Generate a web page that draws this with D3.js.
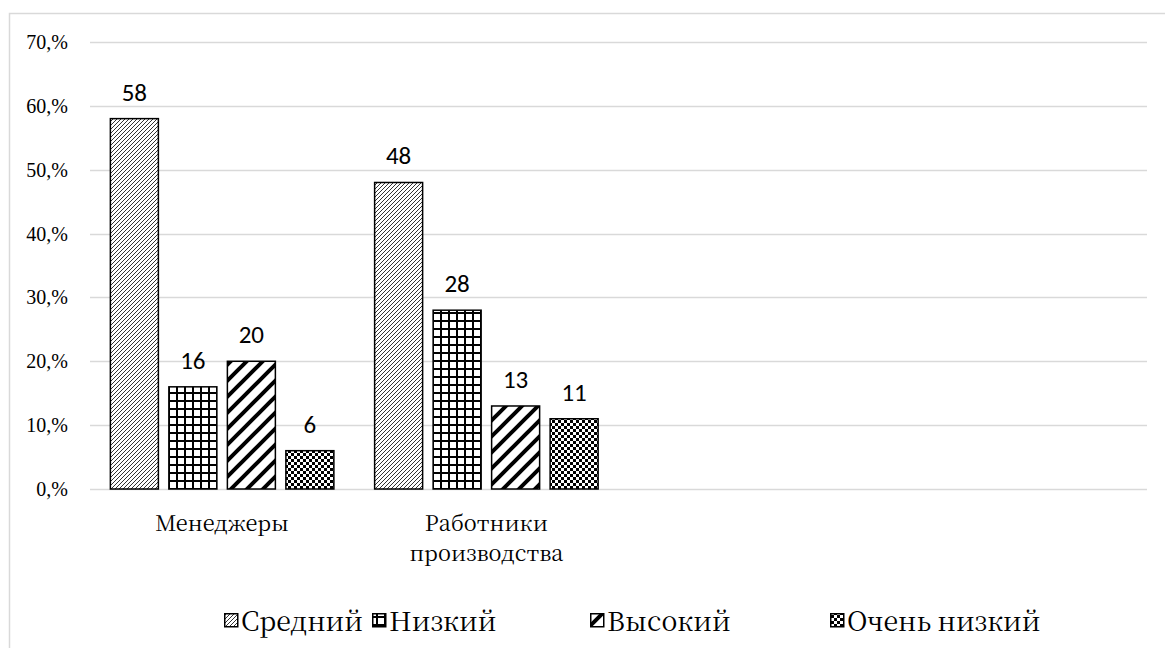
<!DOCTYPE html>
<html><head><meta charset="utf-8">
<script src="https://cdn.jsdelivr.net/npm/d3@7"></script>
<style>body{margin:0;background:#fff}svg{display:block}
.tick{font-family:'Liberation Serif','Times New Roman',serif}
.serif{font-family:'Noto Serif CJK SC','Liberation Serif',serif}
.sans{font-family:'Carlito','Lato','Liberation Sans',sans-serif}
</style>
</head><body>
<svg id="c" width="1165" height="648"></svg>
<script>
const categories = ["Менеджеры", "Работники производства", "", " "];
const seriesNames = ["Средний", "Низкий", "Высокий", "Очень низкий"];
const srednij = [58, 48, null, null];
const nizkij = [16, 28, null, null];
const vysokij = [20, 13, null, null];
const ochenNizkij = [6, 11, null, null];
const yTicks = [0, 10, 20, 30, 40, 50, 60, 70];
const tickLabels = ["0,%", "10,%", "20,%", "30,%", "40,%", "50,%", "60,%", "70,%"];

const seriesValues = [srednij, nizkij, vysokij, ochenNizkij];
const patterns = ["pSred", "pNiz", "pVys", "pOch"];

const svg = d3.select("#c");
const W = 1165, H = 648;
const m = {left: 90, right: 18, top: 42, bottom: 159};

svg.append("rect").attr("x", 9.5).attr("y", 13.5).attr("width", 1200).attr("height", 700)
  .attr("fill", "none").attr("stroke", "#d9d9d9").attr("stroke-width", 1.5);

const defs = svg.append("defs");
const p1 = defs.append("pattern").attr("id", "pSred").attr("patternUnits", "userSpaceOnUse")
  .attr("width", 4).attr("height", 4);
p1.append("rect").attr("width", 4).attr("height", 4).attr("fill", "#fff");
p1.append("path").attr("d", "M-1,1 L1,-1 M0,4 L4,0 M3,5 L5,3").attr("stroke", "#333").attr("stroke-width", 1);
const p2 = defs.append("pattern").attr("id", "pNiz").attr("patternUnits", "userSpaceOnUse")
  .attr("width", 8).attr("height", 8);
p2.append("rect").attr("width", 8).attr("height", 8).attr("fill", "#fff");
p2.append("path").attr("d", "M1,0 V8 M0,1 H8").attr("stroke", "#000").attr("stroke-width", 2);
const p3 = defs.append("pattern").attr("id", "pVys").attr("patternUnits", "userSpaceOnUse")
  .attr("width", 16).attr("height", 16);
p3.append("rect").attr("width", 16).attr("height", 16).attr("fill", "#fff");
p3.append("path").attr("d", "M-4,4 L4,-4 M0,16 L16,0 M12,20 L20,12").attr("stroke", "#000").attr("stroke-width", 4);
const p4 = defs.append("pattern").attr("id", "pOch").attr("patternUnits", "userSpaceOnUse")
  .attr("width", 6).attr("height", 6);
p4.append("rect").attr("width", 6).attr("height", 6).attr("fill", "#fff");
p4.append("rect").attr("width", 3).attr("height", 3).attr("fill", "#000");
p4.append("rect").attr("x", 3).attr("y", 3).attr("width", 3).attr("height", 3).attr("fill", "#000");

const x0 = d3.scaleBand().domain(categories).range([m.left, W - m.right]).padding(0);
const y = d3.scaleLinear().domain([0, 70]).range([H - m.bottom, m.top]);

svg.append("g").selectAll("line").data(yTicks).join("line")
  .attr("x1", m.left).attr("x2", W - m.right)
  .attr("y1", d => Math.round(y(d)) + 0.5).attr("y2", d => Math.round(y(d)) + 0.5)
  .attr("stroke", "#d9d9d9").attr("stroke-width", 1.5);

svg.append("g").selectAll("text").data(yTicks).join("text")
  .attr("class", "tick")
  .attr("x", 68).attr("y", d => y(d) + 7)
  .attr("text-anchor", "end").attr("font-size", 20)
  .attr("fill", "#000")
  .text((d, i) => tickLabels[i]);

const barW = 48, step = 58.5;
const groupW = step * 3 + barW;
seriesValues.forEach((vals, si) => {
  const g = svg.append("g");
  categories.forEach((c, ci) => {
    const v = vals[ci];
    if (v == null) return;
    const cx = x0(c) + x0.bandwidth() / 2;
    const bx = cx - groupW / 2 + si * step;
    g.append("rect").attr("x", bx).attr("y", y(v)).attr("width", barW).attr("height", y(0) - y(v))
      .attr("fill", `url(#${patterns[si]})`).attr("stroke", "#000").attr("stroke-width", 1.5);
    g.append("text").attr("class", "sans").attr("x", bx + barW / 2).attr("y", y(v) - 18)
      .attr("text-anchor", "middle").attr("font-size", 25)
      .attr("fill", "#000").text(v);
  });
});

function fitSize(cls, str, target) {
  const t = svg.append("text").attr("class", cls).attr("font-size", 100).text(str);
  const w = t.node().getComputedTextLength();
  t.remove();
  return w > 0 ? 100 * target / w : 22;
}

const catSize = fitSize("serif", "Менеджеры", 134);
const catG = svg.append("g");
categories.forEach(c => {
  if (!c.trim()) return;
  const cx = x0(c) + x0.bandwidth() / 2;
  const words = c === "Работники производства" ? ["Работники", "производства"] : [c];
  words.forEach((w, i) => {
    catG.append("text").attr("class", "serif").attr("x", cx).attr("y", 531 + i * 30)
      .attr("text-anchor", "middle").attr("font-size", catSize)
      .attr("fill", "#000").text(w);
  });
});

const legSize = fitSize("serif", "Средний", 122);
const legX = [224, 372, 590, 830];
const lg = svg.append("g");
seriesNames.forEach((n, i) => {
  lg.append("rect").attr("x", legX[i] + 0.75).attr("y", 613.75).attr("width", 13).attr("height", 13)
    .attr("fill", `url(#${patterns[i]})`).attr("stroke", "#000").attr("stroke-width", 1.5);
  lg.append("text").attr("class", "serif").attr("x", legX[i] + 17).attr("y", 631)
    .attr("font-size", legSize).attr("fill", "#000").text(n);
});
</script>
</body></html>
